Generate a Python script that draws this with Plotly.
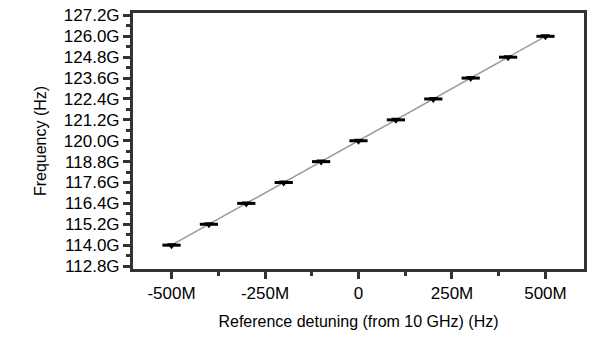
import plotly.graph_objects as go

# Data
detuning_hz = [-500e6, -400e6, -300e6, -200e6, -100e6, 0, 100e6, 200e6, 300e6, 400e6, 500e6]
frequency_hz = [114.0e9, 115.2e9, 116.4e9, 117.6e9, 118.8e9, 120.0e9, 121.2e9, 122.4e9, 123.6e9, 124.8e9, 126.0e9]

x_tickvals = [-500e6, -250e6, 0, 250e6, 500e6]
x_ticktext = ["-500M", "-250M", "0", "250M", "500M"]
y_tickvals = [112.8e9, 114.0e9, 115.2e9, 116.4e9, 117.6e9, 118.8e9, 120.0e9,
              121.2e9, 122.4e9, 123.6e9, 124.8e9, 126.0e9, 127.2e9]
y_ticktext = ["112.8G", "114.0G", "115.2G", "116.4G", "117.6G", "118.8G", "120.0G",
              "121.2G", "122.4G", "123.6G", "124.8G", "126.0G", "127.2G"]

FONT = "Liberation Sans, Arial, sans-serif"
INK = "#333333"

fig = go.Figure()
fig.add_trace(go.Scatter(
    x=detuning_hz, y=frequency_hz, mode="lines",
    line=dict(color="#9a9a9a", width=1.5), hoverinfo="skip", showlegend=False))
fig.add_trace(go.Scatter(
    x=detuning_hz, y=frequency_hz, mode="markers",
    marker=dict(symbol="line-ew", size=13, line=dict(color="black", width=3)),
    showlegend=False))
fig.add_trace(go.Scatter(
    x=detuning_hz, y=frequency_hz, mode="markers",
    marker=dict(symbol="triangle-down", size=8, color="#000000", line=dict(width=0)),
    showlegend=False))

fig.update_layout(
    width=591, height=347,
    margin=dict(l=133, r=4, t=13, b=78),
    paper_bgcolor="white", plot_bgcolor="white",
    xaxis=dict(
        range=[-603e6, 603e6], tickmode="array", tickvals=x_tickvals, ticktext=x_ticktext,
        showline=True, linecolor=INK, linewidth=3, mirror=True,
        ticks="outside", ticklen=7, tickwidth=3, tickcolor=INK,
        minor=dict(dtick=125e6, tick0=0, ticks="outside", ticklen=4, tickwidth=3, tickcolor=INK),
        showgrid=False, zeroline=False,
        tickfont=dict(family=FONT, size=17, color="#000000"),
        title=dict(text="Reference detuning (from 10 GHz) (Hz)",
                   font=dict(family=FONT, size=16, color="#000000"), standoff=14),
    ),
    yaxis=dict(
        range=[112.63e9, 127.34e9], tickmode="array", tickvals=y_tickvals, ticktext=y_ticktext,
        showline=True, linecolor=INK, linewidth=3, mirror=True,
        ticks="outside", ticklen=7, tickwidth=3, tickcolor=INK,
        minor=dict(dtick=0.6e9, tick0=0.6e9, ticks="outside", ticklen=4, tickwidth=3, tickcolor=INK),
        showgrid=False, zeroline=False,
        tickfont=dict(family=FONT, size=17, color="#000000"),
        title=dict(text="Frequency (Hz)",
                   font=dict(family=FONT, size=16, color="#000000"), standoff=14),
    ),
)

fig.write_html("out.html")
